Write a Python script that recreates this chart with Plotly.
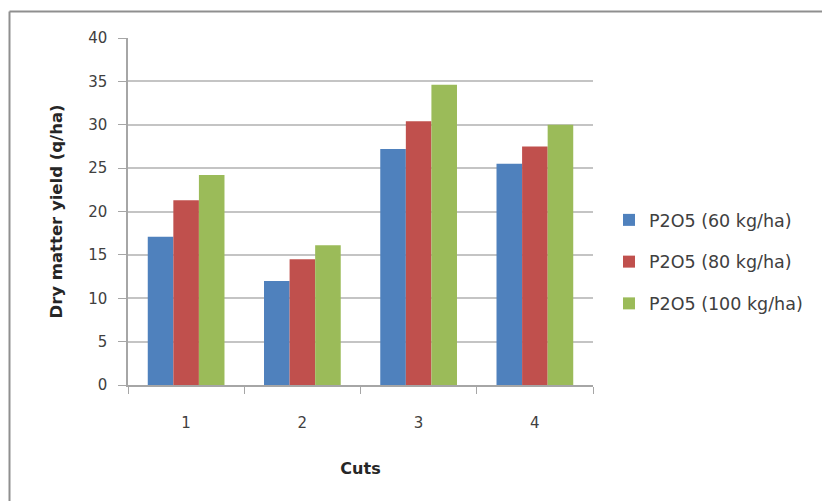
import plotly.graph_objects as go

# Dry matter yield per cut for three phosphorus levels
cuts = ["1", "2", "3", "4"]
series_names = ["P2O5 (60 kg/ha)", "P2O5 (80 kg/ha)", "P2O5 (100 kg/ha)"]
yield_60 = [17.1, 12.0, 27.2, 25.5]
yield_80 = [21.3, 14.5, 30.4, 27.5]
yield_100 = [24.2, 16.1, 34.6, 30.0]
y_ticks = [0, 5, 10, 15, 20, 25, 30, 35, 40]

colors = ["#4F81BD", "#C0504D", "#9BBB59"]
W, H = 822, 501
L, R, T, B = 128, 229, 38, 116
pw, ph = W - L - R, H - T - B

fig = go.Figure()
for i, (name, vals, col) in enumerate(zip(series_names, [yield_60, yield_80, yield_100], colors)):
    fig.add_trace(go.Bar(
        x=cuts, y=vals, name=name, legendgroup=f"g{i}",
        marker=dict(color=col, line=dict(width=0)),
    ))


def px_x(p):
    return (p - L) / pw


def px_y(q):
    return (H - B - q) / ph


# outer chart frame (left and top edges)
frame = dict(type="line", xref="paper", yref="paper", line=dict(color="#8f8f8f", width=2))
fig.add_shape(**frame, x0=px_x(9.5), x1=px_x(9.5), y0=px_y(11.5), y1=px_y(510))
fig.add_shape(**frame, x0=px_x(9.5), x1=px_x(830), y0=px_y(11.5), y1=px_y(11.5))

font_family = "'DejaVu Sans', Verdana, sans-serif"
fig.update_layout(
    width=W, height=H,
    margin=dict(l=L, r=R, t=T, b=B),
    paper_bgcolor="white", plot_bgcolor="white",
    barmode="group", bargap=0.34, bargroupgap=0,
    font=dict(family=font_family, size=15, color="#404040"),
    showlegend=True,
    legend=dict(
        x=px_x(609), y=px_y(262), xanchor="left", yanchor="middle",
        font=dict(size=17.5, color="#404040"), itemwidth=30,
        traceorder="grouped", tracegroupgap=16, bgcolor="rgba(0,0,0,0)",
    ),
    xaxis=dict(
        type="category", tickson="boundaries", ticks="outside", ticklen=7,
        tickcolor="#a6a6a6", showline=True, linecolor="#a6a6a6", linewidth=1.5,
        showgrid=False, tickfont=dict(size=15), ticklabelstandoff=23,
        title=dict(text="<b>Cuts</b>", font=dict(size=16, color="#262626"), standoff=32),
    ),
    yaxis=dict(
        range=[0, 40], tickvals=y_ticks, ticks="outside", ticklen=8,
        tickcolor="#a6a6a6", showline=True, linecolor="#a6a6a6", linewidth=1.5,
        showgrid=True, gridcolor="#c4c4c4", gridwidth=1.5, zeroline=False,
        tickfont=dict(size=15), ticklabelstandoff=8,
        title=dict(text="<b>Dry matter yield (q/ha)</b>", font=dict(size=16.5, color="#262626"), standoff=21),
    ),
)

fig.write_html("out.html")
